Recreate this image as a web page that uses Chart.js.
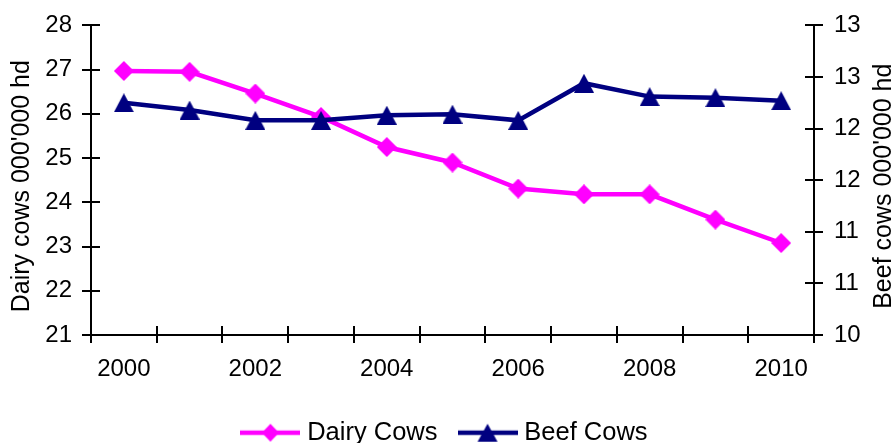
<!DOCTYPE html>
<html>
<head>
<meta charset="utf-8">
<script src="https://cdn.jsdelivr.net/npm/chart.js@4.4.1/dist/chart.umd.min.js"></script>
<style>
  html, body { margin: 0; padding: 0; background: #fff; }
</style>
</head>
<body>
<canvas id="chart" width="894" height="443"></canvas>
<script>
// data
const years = ['2000', '2001', '2002', '2003', '2004', '2005', '2006', '2007', '2008', '2009', '2010'];
const dairyCows = [26.97, 26.95, 26.46, 25.93, 25.25, 24.90, 24.31, 24.18, 24.18, 23.61, 23.08];
const beefCows = [12.25, 12.18, 12.08, 12.08, 12.13, 12.14, 12.08, 12.44, 12.31, 12.30, 12.27];
const seriesNames = ['Dairy Cows', 'Beef Cows'];
const axisTitles = ["Dairy cows 000'000 hd", "Beef cows 000'000 hd"];
const dairyRange = { min: 21, max: 28, step: 1 };
const beefRange = { min: 10, max: 13, step: 0.5 };

const PINK = '#ff00ff';
const NAVY = '#000080';
const FONT = '"Liberation Sans", Arial, sans-serif';

Chart.defaults.font.family = FONT;
Chart.defaults.color = '#000';

function drawDiamond(ctx, cx, cy, w, h, color) {
    ctx.fillStyle = color;
    ctx.beginPath();
    ctx.moveTo(cx, cy - h / 2);
    ctx.lineTo(cx + w / 2, cy);
    ctx.lineTo(cx, cy + h / 2);
    ctx.lineTo(cx - w / 2, cy);
    ctx.closePath();
    ctx.fill();
}

function drawTriangle(ctx, cx, cy, w, h, color) {
    ctx.fillStyle = color;
    ctx.beginPath();
    ctx.moveTo(cx, cy - h / 2);
    ctx.lineTo(cx + w / 2, cy + h / 2);
    ctx.lineTo(cx - w / 2, cy + h / 2);
    ctx.closePath();
    ctx.fill();
}

function marker(kind, color, w, h) {
    const c = document.createElement('canvas');
    c.width = w;
    c.height = h;
    const ctx = c.getContext('2d');
    if (kind === 'diamond') drawDiamond(ctx, w / 2, h / 2, w, h, color);
    else drawTriangle(ctx, w / 2, h / 2, w, h, color);
    return c;
}

// legend swatch: line with the marker in the middle
function swatch(kind, color) {
    const c = document.createElement('canvas');
    c.width = 60;
    c.height = 22;
    const ctx = c.getContext('2d');
    ctx.strokeStyle = color;
    ctx.lineWidth = 4.5;
    ctx.beginPath();
    ctx.moveTo(0, 11);
    ctx.lineTo(60, 11);
    ctx.stroke();
    if (kind === 'diamond') drawDiamond(ctx, 30, 11, 17, 18, color);
    else drawTriangle(ctx, 30, 11, 20, 18, color);
    return c;
}

const swatches = [swatch('diamond', PINK), swatch('triangle', NAVY)];

// tick marks that cross the axis line (outer half comes from Chart.js)
const crossTicks = {
    id: 'crossTicks',
    beforeDatasetsDraw(chart) {
        const { ctx, chartArea, scales } = chart;
        const len = 9;
        ctx.save();
        ctx.strokeStyle = '#000';
        ctx.lineWidth = 2;
        ctx.beginPath();
        scales.yDairy.ticks.forEach((t, i) => {
            const y = Math.round(scales.yDairy.getPixelForTick(i));
            ctx.moveTo(chartArea.left, y);
            ctx.lineTo(chartArea.left + len, y);
        });
        scales.yBeef.ticks.forEach((t, i) => {
            const y = Math.round(scales.yBeef.getPixelForTick(i));
            ctx.moveTo(chartArea.right, y);
            ctx.lineTo(chartArea.right - len, y);
        });
        const xs = scales.x;
        const n = xs.ticks.length;
        for (let i = 0; i <= n; i++) {
            let px;
            if (i === 0) px = xs.left;
            else if (i === n) px = xs.right;
            else px = (xs.getPixelForTick(i - 1) + xs.getPixelForTick(i)) / 2;
            px = Math.round(px);
            ctx.moveTo(px, chartArea.bottom);
            ctx.lineTo(px, chartArea.bottom - len);
        }
        ctx.stroke();
        ctx.restore();
    }
};

// both axis titles read bottom-to-top, as in the original
const axisTitlePlugin = {
    id: 'axisTitles',
    afterDraw(chart) {
        const { ctx, chartArea, scales } = chart;
        const midY = (chartArea.top + chartArea.bottom) / 2 + 6;
        ctx.save();
        ctx.font = '25px ' + FONT;
        ctx.fillStyle = '#000';
        ctx.textAlign = 'center';
        ctx.textBaseline = 'middle';
        [[scales.yDairy.left + 22, axisTitles[0]], [scales.yBeef.right - 10, axisTitles[1]]].forEach(([x, text]) => {
            ctx.save();
            ctx.translate(x, midY);
            ctx.rotate(-Math.PI / 2);
            ctx.fillText(text, 0, 0);
            ctx.restore();
        });
        ctx.restore();
    }
};

const whiteBg = {
    id: 'whiteBg',
    beforeDraw(chart) {
        const { ctx } = chart;
        ctx.save();
        ctx.fillStyle = '#fff';
        ctx.fillRect(0, 0, chart.width, chart.height);
        ctx.restore();
    }
};

const axisGrid = {
    drawOnChartArea: false,
    drawTicks: true,
    tickLength: 9,
    color: '#000',
    lineWidth: 2
};

new Chart(document.getElementById('chart'), {
    type: 'line',
    data: {
        labels: years,
        datasets: [
            {
                label: seriesNames[0],
                data: dairyCows,
                yAxisID: 'yDairy',
                borderColor: PINK,
                backgroundColor: PINK,
                borderWidth: 4.5,
                pointStyle: marker('diamond', PINK, 20, 20),
                pointRadius: 10,
                tension: 0,
                fill: false,
                order: 1
            },
            {
                label: seriesNames[1],
                data: beefCows,
                yAxisID: 'yBeef',
                borderColor: NAVY,
                backgroundColor: NAVY,
                borderWidth: 4.5,
                pointStyle: marker('triangle', NAVY, 20, 19),
                pointRadius: 10,
                tension: 0,
                fill: false,
                order: 0
            }
        ]
    },
    options: {
        responsive: false,
        devicePixelRatio: 1,
        animation: false,
        layout: { padding: { top: 24, left: 0, right: 0, bottom: 0 } },
        scales: {
            x: {
                offset: true,
                grid: { ...axisGrid, offset: true, tickLength: 8 },
                border: { color: '#000', width: 2 },
                ticks: {
                    autoSkip: false,
                    maxRotation: 0,
                    padding: 12,
                    font: { size: 24 },
                    color: '#000',
                    callback: (v, i) => (i % 2 === 0 ? years[i] : '')
                },
                afterFit: (scale) => { scale.height = 59; }
            },
            yDairy: {
                position: 'left',
                min: dairyRange.min,
                max: dairyRange.max,
                grid: axisGrid,
                border: { color: '#000', width: 2 },
                ticks: { stepSize: dairyRange.step, padding: 10, font: { size: 24 }, color: '#000' },
                afterFit: (scale) => { scale.width = 91; }
            },
            yBeef: {
                position: 'right',
                min: beefRange.min,
                max: beefRange.max,
                grid: axisGrid,
                border: { color: '#000', width: 2 },
                ticks: {
                    stepSize: beefRange.step,
                    padding: 11,
                    font: { size: 24 },
                    color: '#000',
                    callback: (v) => Math.round(v)
                },
                afterFit: (scale) => { scale.width = 80; }
            }
        },
        plugins: {
            tooltip: { enabled: false },
            legend: {
                position: 'bottom',
                maxHeight: 49,
                labels: {
                    usePointStyle: true,
                    pointStyleWidth: 48,
                    padding: 26,
                    color: '#000',
                    font: { size: 25.5 },
                    generateLabels: (chart) => chart.data.datasets.map((ds, i) => ({
                        text: ds.label,
                        pointStyle: swatches[i],
                        fillStyle: ds.borderColor,
                        strokeStyle: ds.borderColor,
                        lineWidth: 0,
                        fontColor: '#000',
                        hidden: false,
                        datasetIndex: i
                    }))
                }
            }
        }
    },
    plugins: [whiteBg, crossTicks, axisTitlePlugin]
});
</script>
</body>
</html>
